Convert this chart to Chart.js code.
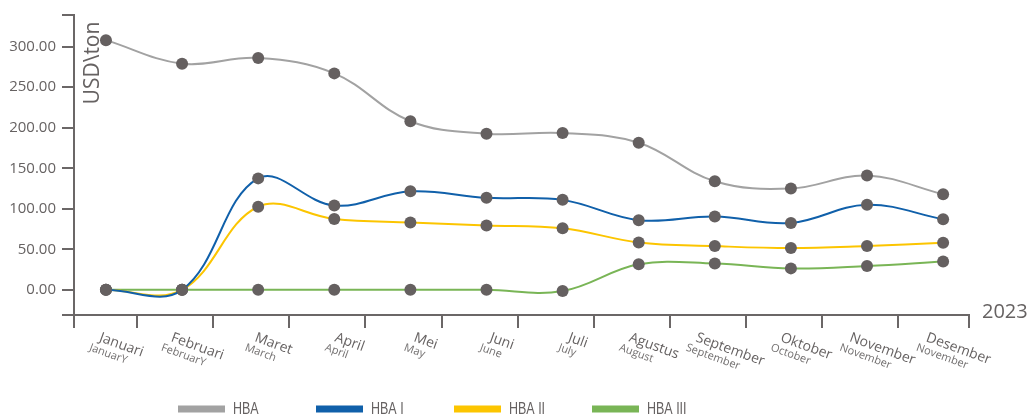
<!DOCTYPE html>
<html>
<head>
<meta charset="utf-8">
<script src="https://cdn.jsdelivr.net/npm/chart.js@4.4.1/dist/chart.umd.min.js"></script>
<style>
  html, body { margin: 0; padding: 0; background: #fff; }
  #wrap { width: 1029px; height: 419px; position: relative; }
</style>
</head>
<body>
<div id="wrap"><canvas id="hbaChart"></canvas></div>
<script>
// Data (USD/ton, 2023)
const months = ['Januari', 'Februari', 'Maret', 'April', 'Mei', 'Juni', 'Juli', 'Agustus', 'September', 'Oktober', 'November', 'Desember'];
const monthsEn = ['JanuarY', 'FebruarY', 'March', 'April', 'May', 'June', 'July', 'August', 'September', 'October', 'November', 'November'];

const hba    = [308, 279, 286, 267, 208, 192.5, 193.5, 181.5, 134, 125, 141, 118];
const hbaI   = [0, 0, 137.5, 104, 121.5, 113.5, 111, 86, 90.5, 82.5, 105, 87];
const hbaII  = [0, 0, 102.5, 87.5, 83, 79.5, 76, 58.5, 54, 51.5, 54, 58];
const hbaIII = [0, 0, 0, 0, 0, 0, -1.5, 31.5, 32.5, 26.5, 29.5, 35];

const yTickValues = [0, 50, 100, 150, 200, 250, 300];
const yMin = -31, yMax = 339;
const xMin = -0.42, xMax = 11.34;

const axisColor = '#6b6767';
const textColor = '#666262';
const pointColor = '#656060';
const baseFont = "'Open Sans', 'Noto Sans', sans-serif";

const toPoints = arr => arr.map((v, i) => ({ x: i, y: v }));

function makeSet(label, values, color) {
    return {
        label: label,
        data: toPoints(values),
        borderColor: color,
        backgroundColor: color,
        borderWidth: 2,
        tension: 0.38,
        pointRadius: 6,
        pointHoverRadius: 6,
        pointBackgroundColor: pointColor,
        pointBorderWidth: 0,
        clip: false
    };
}

// x labels, legend, unit and year drawn on the canvas
const decorations = {
    id: 'decorations',
    afterDraw(chart) {
        const ctx = chart.ctx;
        const area = chart.chartArea;
        const xs = chart.scales.x;
        const angle = 20 * Math.PI / 180;

        ctx.save();
        ctx.fillStyle = textColor;
        ctx.textBaseline = 'alphabetic';
        ctx.textAlign = 'left';

        months.forEach((m, i) => {
            const px = xs.getPixelForValue(i);
            ctx.font = '14px ' + baseFont;
            const w = ctx.measureText(m).width;
            const sx = px + 16 - (w * Math.cos(angle)) / 2 - 2;
            const sy = area.bottom + 26;
            ctx.save();
            ctx.translate(sx, sy);
            ctx.rotate(angle);
            ctx.fillStyle = textColor;
            ctx.fillText(m, 0, 0);
            ctx.font = '11px ' + baseFont;
            ctx.fillStyle = '#737070';
            ctx.fillText(monthsEn[i], -6, 12);
            ctx.restore();
        });

        // unit label
        ctx.save();
        ctx.font = '21px ' + baseFont;
        ctx.translate(area.left + 19, area.top + 48);
        ctx.rotate(-Math.PI / 2);
        ctx.textAlign = 'center';
        ctx.textBaseline = 'middle';
        ctx.fillText('USD\\ton', 0, 0);
        ctx.restore();

        // year
        ctx.font = '20px ' + baseFont;
        ctx.textAlign = 'left';
        ctx.fillText('2023', area.right + 13, area.bottom + 3);

        // legend (narrow text)
        ctx.font = "16px 'Liberation Sans', sans-serif";
        ctx.textBaseline = 'middle';
        chart.data.datasets.forEach((ds, i) => {
            const lx = area.left + 104 + i * 138;
            const ly = 409;
            ctx.fillStyle = ds.borderColor;
            ctx.fillRect(lx, ly - 3.5, 47, 7);
            ctx.fillStyle = textColor;
            ctx.save();
            ctx.translate(lx + 55, ly + 1);
            ctx.scale(0.78, 1);
            ctx.fillText(ds.label, 0, 0);
            ctx.restore();
        });
        ctx.restore();
    }
};

new Chart(document.getElementById('hbaChart'), {
    type: 'line',
    data: {
        datasets: [
            makeSet('HBA', hba, '#a2a2a2'),
            makeSet('HBA I', hbaI, '#1060aa'),
            makeSet('HBA II', hbaII, '#fcc500'),
            makeSet('HBA III', hbaIII, '#79b556')
        ]
    },
    options: {
        responsive: true,
        maintainAspectRatio: false,
        animation: false,
        events: [],
        layout: { padding: { top: 12, right: 60, bottom: 0, left: 0 } },
        plugins: {
            legend: { display: false },
            tooltip: { enabled: false }
        },
        scales: {
            x: {
                type: 'linear',
                min: xMin,
                max: xMax,
                afterBuildTicks: scale => {
                    const t = [xMin];
                    for (let i = 0; i < months.length - 1; i++) t.push(i + 0.41);
                    t.push(xMax);
                    scale.ticks = t.map(v => ({ value: v }));
                },
                afterFit: scale => { scale.height = 104; },
                ticks: { display: false },
                grid: {
                    drawOnChartArea: false,
                    drawTicks: true,
                    tickLength: 13,
                    color: axisColor,
                    lineWidth: 2
                },
                border: { display: true, color: axisColor, width: 2 }
            },
            y: {
                min: yMin,
                max: yMax,
                afterBuildTicks: scale => {
                    scale.ticks = [yMin].concat(yTickValues, [yMax]).map(v => ({ value: v }));
                },
                afterFit: scale => { scale.width = 74; },
                ticks: {
                    padding: 6,
                    color: textColor,
                    font: { family: baseFont, size: 15 },
                    callback: v => yTickValues.includes(v) ? v.toFixed(2) : ''
                },
                grid: {
                    drawOnChartArea: false,
                    drawTicks: true,
                    tickLength: 12,
                    color: axisColor,
                    lineWidth: 2
                },
                border: { display: true, color: axisColor, width: 2 }
            }
        }
    },
    plugins: [decorations]
});
</script>
</body>
</html>
